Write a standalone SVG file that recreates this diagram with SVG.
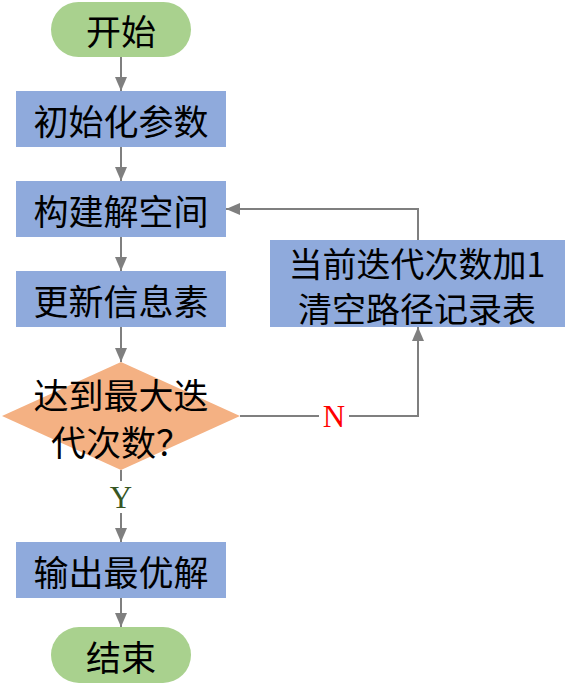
<svg xmlns="http://www.w3.org/2000/svg" width="571" height="691" viewBox="0 0 571 691">
<defs>
<marker id="ah" viewBox="0 0 14 12" refX="14" refY="6" markerWidth="14" markerHeight="12" markerUnits="userSpaceOnUse" orient="auto">
<path d="M0,0 L14,6 L0,12 Z" fill="#7f7f7f"/>
</marker>
</defs>
<style>
.t{font-family:"Noto Sans CJK SC","Noto Sans",sans-serif;font-size:35px;fill:#000;text-anchor:middle;dominant-baseline:central}
.t2{font-size:34px}
.pill{fill:#a9d18e}
.box{fill:#8faadc}
.dia{fill:#f4b183}
.c{fill:none;stroke:#7f7f7f;stroke-width:2}
.lbl{font-family:"Liberation Serif",serif;font-size:31px;text-anchor:middle;dominant-baseline:central}
</style>
<rect width="571" height="691" fill="#fff"/>
<g id="connectors">
<line class="c" x1="121" y1="57" x2="121" y2="91" marker-end="url(#ah)"/>
<line class="c" x1="121" y1="147" x2="121" y2="181" marker-end="url(#ah)"/>
<line class="c" x1="121" y1="237" x2="121" y2="271" marker-end="url(#ah)"/>
<line class="c" x1="121" y1="327" x2="121" y2="362" marker-end="url(#ah)"/>
<line class="c" x1="121" y1="470" x2="121" y2="542" marker-end="url(#ah)"/>
<line class="c" x1="121" y1="598" x2="121" y2="627" marker-end="url(#ah)"/>
<polyline class="c" points="240,416 418,416 418,327" marker-end="url(#ah)"/>
<polyline class="c" points="418,240 418,209 226,209" marker-end="url(#ah)"/>
<rect x="107" y="481" width="28" height="32" fill="#fff"/>
<text class="lbl" x="121" y="497" fill="#375623">Y</text>
<rect x="319" y="400" width="30" height="32" fill="#fff"/>
<text class="lbl" x="334" y="416" fill="#ff0000">N</text>
</g>
<g id="start">
<rect class="pill" x="51" y="2" width="140" height="55" rx="27.5"/>
<text class="t" x="121" y="29">开始</text>
</g>
<g id="init">
<rect class="box" x="16" y="91" width="210" height="56"/>
<text class="t" x="121" y="119">初始化参数</text>
</g>
<g id="build">
<rect class="box" x="16" y="181" width="210" height="56"/>
<text class="t" x="121" y="209">构建解空间</text>
</g>
<g id="update">
<rect class="box" x="16" y="271" width="210" height="56"/>
<text class="t" x="121" y="299">更新信息素</text>
</g>
<g id="decision">
<polygon class="dia" points="121,362 240,416 121,470 2,416"/>
<text class="t"><tspan x="121" y="393">达到最大迭</tspan><tspan x="121" y="440">代次数？</tspan></text>
</g>
<g id="increment">
<rect class="box" x="270" y="240" width="295" height="87"/>
<text class="t t2"><tspan x="417" y="262">当前迭代次数加1</tspan><tspan x="417" y="307">清空路径记录表</tspan></text>
</g>
<g id="output">
<rect class="box" x="16" y="542" width="210" height="56"/>
<text class="t" x="121" y="570">输出最优解</text>
</g>
<g id="end">
<rect class="pill" x="51" y="627" width="140" height="56" rx="28"/>
<text class="t" x="121" y="655">结束</text>
</g>
</svg>
